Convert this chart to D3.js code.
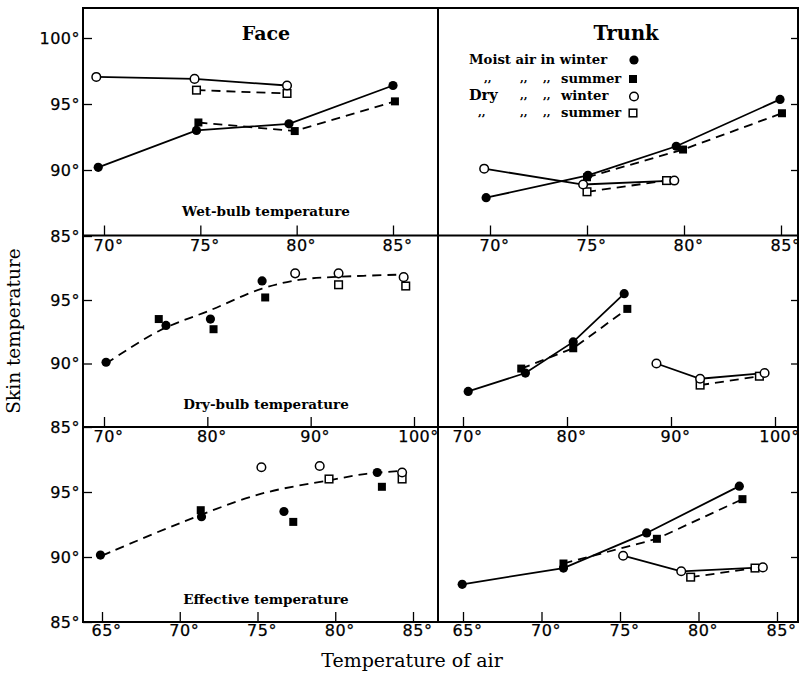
<!DOCTYPE html>
<html><head><meta charset="utf-8">
<script src="https://cdn.jsdelivr.net/npm/d3@7/dist/d3.min.js"></script>
<style>
html,body{margin:0;padding:0;background:#fff;}
svg{display:block;}
.tick text{font-family:"DejaVu Sans",sans-serif;font-size:16px;fill:#000;letter-spacing:0.5px;stroke:#000;stroke-width:0.25px;}
</style></head>
<body>
<svg id="chart" width="799" height="677"></svg>
<script>
// ---------------- DATA ----------------
// [temperature of air, skin temperature]
// Face — wet-bulb
const faceWetMoistWinter = [[69.7,90.2],[74.8,93.0],[79.6,93.5],[85.0,96.4]];
const faceWetMoistSummer = [[74.9,93.6],[79.9,92.95],[85.1,95.2]];
const faceWetDryWinter   = [[69.6,97.05],[74.7,96.9],[79.5,96.4]];
const faceWetDrySummer   = [[74.8,96.05],[79.5,95.8]];
// Trunk — wet-bulb
const trunkWetMoistWinter = [[69.8,87.9],[75.05,89.6],[79.6,91.8],[84.95,95.35]];
const trunkWetMoistSummer = [[75.0,89.45],[79.95,91.55],[85.05,94.3]];
const trunkWetDryWinter   = [[69.7,90.1],[74.8,88.9],[79.5,89.2]];
const trunkWetDrySummer   = [[75.0,88.35],[79.1,89.2]];
// Face — dry-bulb
const faceDryMoistWinter = [[70.2,90.1],[76.0,93.0],[80.3,93.5],[85.3,96.5]];
const faceDryMoistSummer = [[75.3,93.5],[80.6,92.7],[85.6,95.2]];
const faceDryDryWinter   = [[88.5,97.1],[92.7,97.1],[99.0,96.8]];
const faceDryDrySummer   = [[92.7,96.2],[99.2,96.1]];
const faceDryTrend       = [[70.2,90.0],[75.4,92.6],[80.3,94.2],[85.3,95.9],[89,96.6],[92,96.8],[98.8,97.0]];
// Trunk — dry-bulb
const trunkDryMoistWinter = [[70.5,87.8],[76.0,89.25],[80.6,91.7],[85.5,95.5]];
const trunkDryMoistSummer = [[75.6,89.6],[80.6,91.2],[85.8,94.3]];
const trunkDryDryWinter   = [[88.6,90.0],[92.8,88.8],[99.0,89.25]];
const trunkDryDrySummer   = [[92.8,88.3],[98.5,89.0]];
// Face — effective
const faceEffMoistWinter = [[64.9,90.15],[71.4,93.1],[76.7,93.5],[82.7,96.5]];
const faceEffMoistSummer = [[71.35,93.6],[77.3,92.7],[83.0,95.4]];
const faceEffDryWinter   = [[75.25,96.9],[79.0,97.0],[84.3,96.5]];
const faceEffDrySummer   = [[79.6,96.0],[84.3,96.0]];
const faceEffTrend       = [[65,90.1],[70,92.6],[75.2,94.85],[79.6,95.9],[82,96.4],[84,96.6]];
// Trunk — effective
const trunkEffMoistWinter = [[64.95,87.9],[71.4,89.15],[76.7,91.85],[82.6,95.45]];
const trunkEffMoistSummer = [[71.4,89.5],[77.35,91.4],[82.8,94.45]];
const trunkEffDryWinter   = [[75.2,90.1],[78.9,88.9],[84.1,89.2]];
const trunkEffDrySummer   = [[79.5,88.45],[83.6,89.15]];

// tick labels
const xTicksWet = [70,75,80,85];
const xTicksDry = [70,80,90,100];
const xTicksEff = [65,70,75,80,85];
const yTicksTop = [85,90,95,100];
const yTicksLower = [85,90,95];

const titles = ["Face","Trunk"];
const rowLabels = ["Wet-bulb temperature","Dry-bulb temperature","Effective temperature"];
const legendLabels = ["Moist air in winter","summer","winter","summer"];

// ---------------- LAYOUT ----------------
const svg = d3.select("#chart");
const L = 83, M = 438, R = 798;
const rowTop = [8, 235.5, 427];
const rowBot = [235.5, 427, 622];

const yScales = [
  d3.scaleLinear().domain([85,100]).range([236,38]),
  d3.scaleLinear().domain([85,95]).range([427,300]),
  d3.scaleLinear().domain([85,95]).range([622,492])
];
const xScales = [
  [d3.scaleLinear().domain([70,85]).range([104,393]), d3.scaleLinear().domain([70,85]).range([490,781])],
  [d3.scaleLinear().domain([70,100]).range([104,414]), d3.scaleLinear().domain([70,100]).range([463,775])],
  [d3.scaleLinear().domain([65,85]).range([102,413]), d3.scaleLinear().domain([65,85]).range([463,777])]
];
const xTicks = [xTicksWet, xTicksDry, xTicksEff];
const yTicks = [yTicksTop, yTicksLower, yTicksLower];

const fmt = d => d + "°";

// ---------------- AXES ----------------
for (let r = 0; r < 3; r++) {
  for (let c = 0; c < 2; c++) {
    const ax = svg.append("g").attr("transform", `translate(0,${rowBot[r]})`)
      .call(d3.axisBottom(xScales[r][c]).tickValues(xTicks[r]).tickSize(-10).tickPadding(r===2?3:4).tickFormat(fmt));
    ax.select(".domain").remove();
    ax.selectAll(".tick line").attr("stroke","#000").attr("stroke-width",1.3);
    ax.selectAll(".tick text").attr("dx", 4);
  }
  const yl = svg.append("g").attr("transform", `translate(${L},0)`)
    .call(d3.axisLeft(yScales[r]).tickValues(yTicks[r]).tickSize(-9).tickPadding(3).tickFormat(fmt));
  yl.select(".domain").remove();
  yl.selectAll(".tick line").attr("stroke","#000").attr("stroke-width",1.3);
  const yr = svg.append("g").attr("transform", `translate(${R},0)`)
    .call(d3.axisRight(yScales[r]).tickValues(yTicks[r].filter(v=>v>85)).tickSize(-7).tickFormat(""));
  yr.select(".domain").remove();
  yr.selectAll(".tick line").attr("stroke","#000").attr("stroke-width",1.3);
}

// ---------------- FRAME ----------------
svg.append("rect").attr("x",L).attr("y",rowTop[0]).attr("width",R-L).attr("height",rowBot[2]-rowTop[0])
  .attr("fill","none").attr("stroke","#000").attr("stroke-width",2);
svg.append("line").attr("x1",M).attr("x2",M).attr("y1",rowTop[0]).attr("y2",rowBot[2]).attr("stroke","#000").attr("stroke-width",2);
[rowBot[0], rowBot[1]].forEach(yy => svg.append("line").attr("x1",L).attr("x2",R).attr("y1",yy).attr("y2",yy).attr("stroke","#000").attr("stroke-width",2));

// ---------------- MARKS ----------------
function line(x, y, data, dashed, curve) {
  const gen = d3.line().x(d => x(d[0])).y(d => y(d[1]));
  if (curve) gen.curve(d3.curveCatmullRom.alpha(0.5));
  svg.append("path").datum(data).attr("d", gen).attr("fill","none").attr("stroke","#000")
    .attr("stroke-width", 1.8).attr("stroke-dasharray", dashed ? "9,6" : null);
}
function markers(x, y, data, kind) {
  const g = svg.append("g");
  data.forEach(d => drawMarker(g, x(d[0]), y(d[1]), kind));
}
function drawMarker(g, cx, cy, kind) {
  if (kind === "fc") g.append("circle").attr("cx",cx).attr("cy",cy).attr("r",4.6).attr("fill","#000");
  if (kind === "oc") g.append("circle").attr("cx",cx).attr("cy",cy).attr("r",4.3).attr("fill","#fff").attr("stroke","#000").attr("stroke-width",1.5);
  if (kind === "fs") g.append("rect").attr("x",cx-4).attr("y",cy-4).attr("width",8).attr("height",8).attr("fill","#000");
  if (kind === "os") g.append("rect").attr("x",cx-3.8).attr("y",cy-3.8).attr("width",7.6).attr("height",7.6).attr("fill","#fff").attr("stroke","#000").attr("stroke-width",1.5);
}

const connected = [
  [0,0, faceWetMoistWinter, faceWetMoistSummer, faceWetDryWinter, faceWetDrySummer],
  [0,1, trunkWetMoistWinter, trunkWetMoistSummer, trunkWetDryWinter, trunkWetDrySummer],
  [1,1, trunkDryMoistWinter, trunkDryMoistSummer, trunkDryDryWinter, trunkDryDrySummer],
  [2,1, trunkEffMoistWinter, trunkEffMoistSummer, trunkEffDryWinter, trunkEffDrySummer]
];
connected.forEach(([r,c,mw,ms,dw,ds]) => {
  const x = xScales[r][c], y = yScales[r];
  line(x,y,mw,false); line(x,y,ms,true); line(x,y,dw,false); line(x,y,ds,true);
});
line(xScales[1][0], yScales[1], faceDryTrend, true, true);
line(xScales[2][0], yScales[2], faceEffTrend, true, true);

connected.forEach(([r,c,mw,ms,dw,ds]) => {
  const x = xScales[r][c], y = yScales[r];
  markers(x,y,ms,"fs"); markers(x,y,mw,"fc"); markers(x,y,ds,"os"); markers(x,y,dw,"oc");
});
[[1, faceDryMoistWinter, faceDryMoistSummer, faceDryDryWinter, faceDryDrySummer],
 [2, faceEffMoistWinter, faceEffMoistSummer, faceEffDryWinter, faceEffDrySummer]].forEach(([r,mw,ms,dw,ds]) => {
  const x = xScales[r][0], y = yScales[r];
  markers(x,y,ms,"fs"); markers(x,y,mw,"fc"); markers(x,y,ds,"os"); markers(x,y,dw,"oc");
});

// ---------------- TEXT ----------------
const serif = '"DejaVu Serif", "Liberation Serif", serif';
svg.append("text").attr("x",266).attr("y",40).attr("text-anchor","middle").attr("font-family",serif)
  .attr("font-weight","bold").attr("font-size",19).text(titles[0]);
svg.append("text").attr("x",626).attr("y",40).attr("text-anchor","middle").attr("font-family",serif)
  .attr("font-weight","bold").attr("font-size",19.5).text(titles[1]);

const rowLabelY = [216, 409, 604];
rowLabels.forEach((t,i) => svg.append("text").attr("x",266).attr("y",rowLabelY[i]).attr("text-anchor","middle")
  .attr("font-family",serif).attr("font-weight","bold").attr("font-size",13.5).text(t));

svg.append("text").attr("x",412).attr("y",667).attr("text-anchor","middle").attr("font-family",serif)
  .attr("font-size",19).text("Temperature of air");
svg.append("text").attr("transform","translate(20,331) rotate(-90)").attr("text-anchor","middle")
  .attr("font-family",serif).attr("font-size",18.5).text("Skin temperature");

// legend
const lg = svg.append("g").attr("font-family",serif).attr("font-weight","bold").attr("font-size",13.2);
const legY = [64, 83, 100, 117];
lg.append("text").attr("x",469).attr("y",legY[0]).text(legendLabels[0]);
lg.append("text").attr("x",561).attr("y",legY[1]).text(legendLabels[1]);
lg.append("text").attr("x",469).attr("y",legY[2]).attr("font-size",14.5).text("Dry");
lg.append("text").attr("x",561).attr("y",legY[2]).text(legendLabels[2]);
lg.append("text").attr("x",561).attr("y",legY[3]).text(legendLabels[3]);
const ditto = [[484,1],[520,1],[543,1],[520,2],[543,2],[478,3],[520,3],[543,3]];
ditto.forEach(([dx,li]) => lg.append("text").attr("x",dx).attr("y",legY[li]-1).attr("font-size",11).text(",,"));
drawMarker(lg, 634, 60, "fc");
drawMarker(lg, 633, 79, "fs");
drawMarker(lg, 634, 96.5, "oc");
drawMarker(lg, 633, 113, "os");
</script>
</body></html>
